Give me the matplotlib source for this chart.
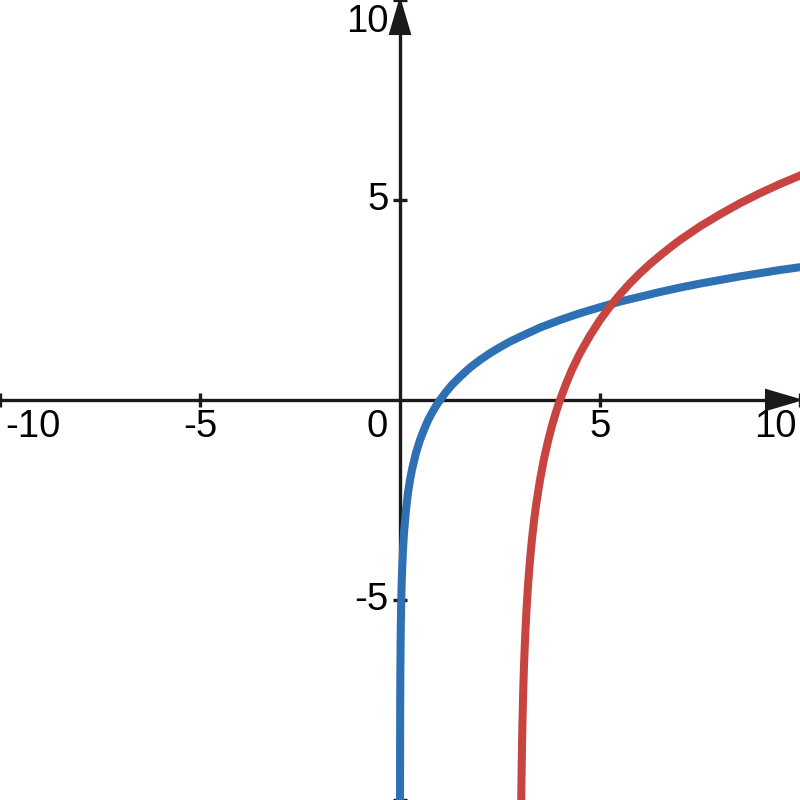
import matplotlib.pyplot as plt
from matplotlib.patches import Polygon

# curve values
blue_x = [0.001, 0.002, 0.005, 0.01, 0.02, 0.035, 0.05, 0.075, 0.1, 0.15, 0.2, 0.25, 0.3, 0.4,
          0.5, 0.6, 0.7, 0.8, 0.9, 1.0, 1.15, 1.3, 1.5, 1.75, 2.0, 2.25, 2.5, 2.75, 3.0, 3.5,
          4.0, 4.5, 5.0, 5.5, 6.0, 6.5, 7.0, 7.5, 8.0, 8.5, 9.0, 9.5, 10.0]
blue_y = [-9.97, -8.97, -7.64, -6.64, -5.64, -4.84, -4.32, -3.74, -3.32, -2.74, -2.32, -2.0, -1.74, -1.32,
          -1.0, -0.74, -0.51, -0.32, -0.15, 0.0, 0.2, 0.38, 0.58, 0.81, 1.0, 1.17, 1.32, 1.46, 1.58, 1.81,
          2.0, 2.17, 2.32, 2.46, 2.58, 2.7, 2.81, 2.91, 3.0, 3.09, 3.17, 3.25, 3.32]

red_x = [3.031, 3.04, 3.05, 3.06, 3.08, 3.1, 3.13, 3.16, 3.2, 3.25, 3.3, 3.35, 3.4, 3.5, 3.6,
         3.7, 3.8, 3.9, 4.0, 4.15, 4.3, 4.5, 4.75, 5.0, 5.25, 5.5, 5.75, 6.0, 6.25, 6.5, 6.75,
         7.0, 7.25, 7.5, 7.75, 8.0, 8.5, 9.0, 9.5, 10.0]
red_y = [-10.0, -9.29, -8.64, -8.12, -7.29, -6.64, -5.89, -5.29, -4.64, -4.0, -3.47, -3.03, -2.64, -2.0, -1.47,
         -1.03, -0.64, -0.3, 0.0, 0.4, 0.76, 1.17, 1.61, 2.0, 2.34, 2.64, 2.92, 3.17, 3.4, 3.61, 3.81,
         4.0, 4.17, 4.34, 4.49, 4.64, 4.92, 5.17, 5.4, 5.61]

x_ticks = [-10, -5, 5, 10]
y_ticks = [-10, -5, 5, 10]
x_labels = ['-10', '-5', '5', '10']
y_labels = ['-5', '5', '10']

plt.rcParams['font.family'] = ['Liberation Sans', 'DejaVu Sans']

fig = plt.figure(figsize=(8, 8), dpi=100)
ax = fig.add_axes([0, 0, 1, 1])
ax.set_xlim(-10, 10)
ax.set_ylim(-10, 10)
ax.axis('off')

axis_col = '#1a1a1a'
ax.plot([-10, 9.3], [0, 0], color=axis_col, lw=2.4, zorder=2, solid_capstyle='butt')
ax.plot([0, 0], [-10, 9.3], color=axis_col, lw=2.4, zorder=2, solid_capstyle='butt')

# arrow heads
ax.add_patch(Polygon([[10, 0], [9.15, 0.25], [9.15, -0.25]], closed=True,
                     facecolor=axis_col, edgecolor=axis_col, lw=1.5, zorder=2))
ax.add_patch(Polygon([[0, 10], [0.25, 9.15], [-0.25, 9.15]], closed=True,
                     facecolor=axis_col, edgecolor=axis_col, lw=1.5, zorder=2))

# tick marks
for t in x_ticks:
    ax.plot([t, t], [-0.18, 0.18], color=axis_col, lw=2.4, zorder=2, solid_capstyle='butt')
for t in y_ticks:
    ax.plot([-0.18, 0.18], [t, t], color=axis_col, lw=2.4, zorder=2, solid_capstyle='butt')

fs = 27.5
# x labels
ax.text(-9.88, -0.68, x_labels[0], ha='left', va='center', fontsize=fs, color='black')
ax.text(-5, -0.68, x_labels[1], ha='center', va='center', fontsize=fs, color='black')
ax.text(5, -0.68, x_labels[2], ha='center', va='center', fontsize=fs, color='black')
ax.text(9.92, -0.68, x_labels[3], ha='right', va='center', fontsize=fs, color='black')
ax.text(-0.3, -0.68, '0', ha='right', va='center', fontsize=fs, color='black')
# y labels
ax.text(-0.28, -5, y_labels[0], ha='right', va='center', fontsize=fs, color='black')
ax.text(-0.28, 5, y_labels[1], ha='right', va='center', fontsize=fs, color='black')
ax.text(-0.28, 9.45, y_labels[2], ha='right', va='center', fontsize=fs, color='black')

ax.plot(blue_x, blue_y, color='#2d70b3', lw=5.8, zorder=3, solid_joinstyle='round')
ax.plot(red_x, red_y, color='#c74440', lw=5.8, zorder=3, solid_joinstyle='round')

fig.savefig('out.png', dpi=100)
